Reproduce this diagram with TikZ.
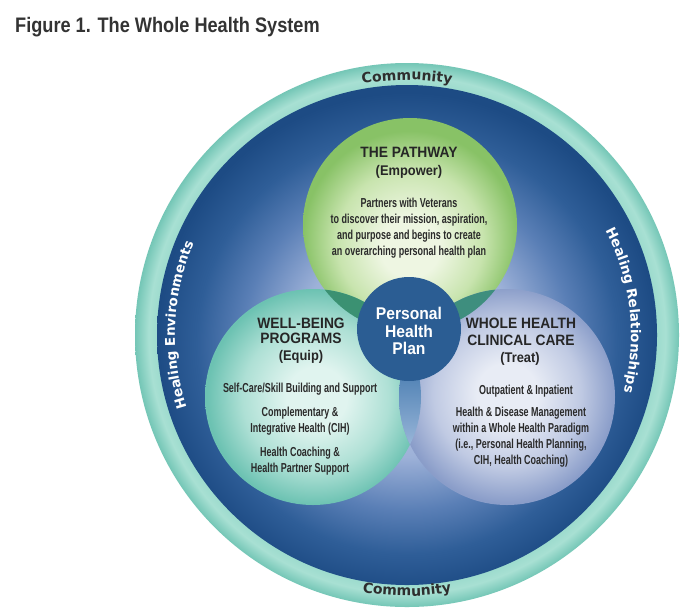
\documentclass[tikz,border=0pt]{standalone}
\usepackage{fontspec}
\usetikzlibrary{decorations.text,fadings}
\newfontfamily\titlefont[FakeStretch=0.865]{Liberation Sans}
\newfontfamily\headfont[FakeStretch=0.92]{Liberation Sans}
\newfontfamily\bodyfont[FakeStretch=0.69]{Liberation Sans}
\newfontfamily\ringfont{DejaVu Sans}

\definecolor{titlegray}{HTML}{333333}
\definecolor{headcol}{HTML}{262626}
\definecolor{bodycol}{HTML}{2A2A2A}
\definecolor{rulecol}{HTML}{1E1E1E}
\definecolor{commcol}{HTML}{2E2E2E}
\definecolor{gIn}{HTML}{EEF6E2}
\definecolor{gMid}{HTML}{C8E4AE}
\definecolor{gOut}{HTML}{88C266}
\definecolor{lIn}{HTML}{E0F4EF}
\definecolor{lMid}{HTML}{AEE0D5}
\definecolor{lOut}{HTML}{6CC2B2}
\definecolor{rIn}{HTML}{E8ECF5}
\definecolor{rMid}{HTML}{C0CAE3}
\definecolor{rOut}{HTML}{8A9DC9}
\definecolor{ovGL}{HTML}{3B9172}
\definecolor{ovGR}{HTML}{3E8E7E}
\definecolor{ovLRt}{HTML}{2F6AA4}
\definecolor{ovLRb}{HTML}{9DB9DB}
\definecolor{planfill}{HTML}{2B5D93}
\definecolor{ringIn}{HTML}{9ADACC}
\definecolor{ringMid}{HTML}{A8E0D3}
\definecolor{ringOut}{HTML}{74C6B6}
\definecolor{bgA}{HTML}{C9D4EA}
\definecolor{bgB}{HTML}{9DB1D8}
\definecolor{bgC}{HTML}{5A7FB6}
\definecolor{bgD}{HTML}{2F5E98}
\definecolor{bgE}{HTML}{1D4B84}

% path bounding box maps to the central 50bp square: circle edge = 25bp
\pgfdeclareradialshading{ringsh}{\pgfpoint{0bp}{0bp}}{color(0bp)=(ringIn); color(22.75bp)=(ringIn); color(23.75bp)=(ringMid); color(25bp)=(ringOut); color(50bp)=(ringOut)}
\pgfdeclareradialshading{discsh}{\pgfpoint{0bp}{-1.5bp}}{color(0bp)=(bgA); color(11bp)=(bgB); color(16.5bp)=(bgC); color(21bp)=(bgD); color(25bp)=(bgE); color(50bp)=(bgE)}
\pgfdeclareradialshading{greensh}{\pgfpoint{0bp}{-6bp}}{color(0bp)=(gIn); color(7bp)=(gIn); color(17bp)=(gMid); color(25bp)=(gOut); color(50bp)=(gOut)}
\pgfdeclareradialshading{leftsh}{\pgfpoint{1bp}{0bp}}{color(0bp)=(lIn); color(7bp)=(lIn); color(17bp)=(lMid); color(25bp)=(lOut); color(50bp)=(lOut)}
\pgfdeclareradialshading{rightsh}{\pgfpoint{0bp}{1bp}}{color(0bp)=(rIn); color(7bp)=(rIn); color(17bp)=(rMid); color(25bp)=(rOut); color(50bp)=(rOut)}

\tikzfading[name=rulefade, left color=transparent!100, middle color=transparent!0, right color=transparent!100]

\newcommand\healfmt{\ringfont\bfseries\fontsize{13.5}{14}\selectfont\color{white}}
\newcommand\commfmt{\ringfont\bfseries\fontsize{14}{14}\selectfont\color{commcol}}

\tikzset{
  headtxt/.style={inner sep=0pt, anchor=north, align=center, text=headcol,
    font=\headfont\bfseries\fontsize{15}{15}\selectfont},
  subtxt/.style={inner sep=0pt, anchor=north, align=center, text=headcol,
    font=\headfont\bfseries\fontsize{14}{14}\selectfont},
  bodytxt/.style={inner sep=0pt, anchor=north, align=center, text=bodycol,
    font=\bodyfont\bfseries\fontsize{13}{16}\selectfont},
  plantxt/.style={inner sep=0pt, anchor=north, align=center, text=white,
    font=\headfont\bfseries\fontsize{17}{17.5}\selectfont},
  hrule/.style={fill=rulecol, path fading=rulefade},
}

\begin{document}
\begin{tikzpicture}[x=1pt,y=1pt]
\useasboundingbox (0,0) rectangle (700,-611);
\fill[white] (0,0) rectangle (700,-611);

\coordinate (C) at (407,-335);
\coordinate (G) at (410,-225);
\coordinate (L) at (313,-397);
\coordinate (R) at (507,-397);
\coordinate (P) at (409,-329);

% title
\node[anchor=base west, inner sep=0pt, text=titlegray,
  font=\titlefont\bfseries\fontsize{21}{22}\selectfont] (title) at (15,-32)
  {Figure 1. The Whole Health System};

% outer ring and disc
\shade[shading=ringsh] (C) circle[radius=272];
\shade[shading=discsh] (C) circle[radius=250];

% three circles
\shade[shading=greensh] (G) circle[radius=107];
\shade[shading=leftsh] (L) circle[radius=108];
\shade[shading=rightsh] (R) circle[radius=108];
\begin{scope}
  \clip (G) circle[radius=107];
  \fill[ovGL] (L) circle[radius=108];
  \fill[ovGR] (R) circle[radius=108];
\end{scope}
\begin{scope}
  \clip (L) circle[radius=108];
  \clip (R) circle[radius=108];
  \shade[top color=ovLRt, bottom color=ovLRb] (380,-340) rectangle (440,-450);
\end{scope}
\fill[planfill] (P) circle[radius=52];

% ring texts
\path[decorate, decoration={text along path, text align=center,
  text={|\commfmt|Community}}]
  ([shift={(110:255)}]C) arc[start angle=110, end angle=70, radius=255];
\path[decorate, decoration={text along path, text align=center,
  text={|\commfmt|Community}}]
  ([shift={(250:261)}]C) arc[start angle=250, end angle=290, radius=261];
\path[decorate, decoration={text along path, text align=center,
  text={|\healfmt|Healing Environments}}]
  ([shift={(215:232)}]C) arc[start angle=215, end angle=140, radius=232];
\path[decorate, decoration={text along path, text align=center,
  text={|\healfmt|Healing Relationships}}]
  ([shift={(40:224)}]C) arc[start angle=40, end angle=-27, radius=224];

% the pathway
\node[headtxt] (pathway) at (409,-147) {THE PATHWAY};
\node[subtxt] (empower) at (409,-165) {(Empower)};
\fill[hrule] (362,-184.2) rectangle (462,-186.2);
\node[bodytxt] (pathtext) at (409,-198)
  {Partners with Veterans\\to discover their mission, aspiration,\\and purpose and begins to create\\an overarching personal health plan};

% well-being programs
\node[headtxt] (wellbeing) at (301,-318) {WELL-BEING\\PROGRAMS};
\node[subtxt] (equip) at (301,-350) {(Equip)};
\fill[hrule] (247,-371) rectangle (353,-373);
\node[bodytxt] (selfcare) at (300,-383) {Self-Care/Skill Building and Support};
\node[bodytxt] (cih) at (300,-407) {Complementary \&\\Integrative Health (CIH)};
\node[bodytxt] (coach) at (300,-447) {Health Coaching \&\\Health Partner Support};

% whole health clinical care
\node[headtxt] (wholehealth) at (521,-318) {WHOLE HEALTH\\[1.5pt]CLINICAL CARE};
\node[subtxt] (treat) at (520,-352) {(Treat)};
\fill[hrule] (472,-371) rectangle (573,-373);
\node[bodytxt] (outpt) at (526,-385) {Outpatient \& Inpatient};
\node[bodytxt] (hdm) at (521,-407)
  {Health \& Disease Management\\within a Whole Health Paradigm\\(i.e., Personal Health Planning,\\CIH, Health Coaching)};

% personal health plan
\node[plantxt] (plan) at (409,-307) {Personal\\Health\\Plan};
\end{tikzpicture}
\end{document}
